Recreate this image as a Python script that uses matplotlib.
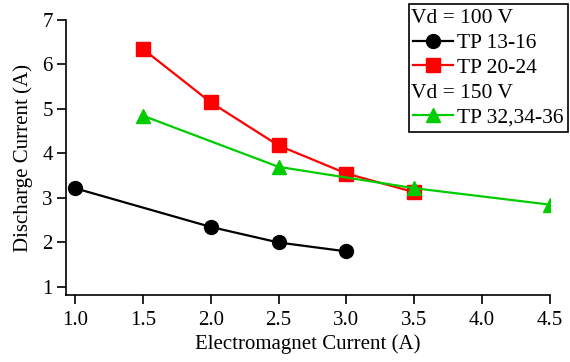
import numpy as np
import matplotlib.pyplot as plt
from matplotlib.lines import Line2D

plt.rcParams["font.family"] = ["Liberation Serif", "DejaVu Serif"]

# Data
x_tp13 = [1.0, 2.0, 2.5, 3.0]
y_tp13 = [3.22, 2.35, 2.0, 1.8]

x_tp20 = [1.5, 2.0, 2.5, 3.0, 3.5]
y_tp20 = [6.35, 5.15, 4.18, 3.55, 3.13]

x_tp32 = [1.5, 2.5, 3.5, 4.5]
y_tp32 = [4.85, 3.7, 3.22, 2.85]

xticks = [1.0, 1.5, 2.0, 2.5, 3.0, 3.5, 4.0, 4.5]
yticks = [1, 2, 3, 4, 5, 6, 7]

green = "#00cc00"

fig = plt.figure(figsize=(5.7, 3.62), dpi=100)
ax = fig.add_axes([66 / 570, 67 / 362, 484 / 570, 275 / 362])

l1, = ax.plot(x_tp13, y_tp13, color="black", lw=1.6, marker="o", ms=10)
l2, = ax.plot(x_tp20, y_tp20, color="red", lw=1.6, marker="s", ms=9.5)
l3, = ax.plot(x_tp32, y_tp32, color=green, lw=1.6, marker="^", ms=10.5)

ax.set_xlim(0.934, 4.5)
ax.set_ylim(0.82, 7)
ax.set_xticks(xticks)
ax.set_xticklabels([f"{v:.1f}" for v in xticks])
ax.set_yticks(yticks)
for s in ["top", "right"]:
    ax.spines[s].set_visible(False)
for s in ["left", "bottom"]:
    ax.spines[s].set_linewidth(1.2)
ax.tick_params(direction="out", length=6.5, width=1.2, labelsize=15)
ax.tick_params(axis="x", pad=5)
ax.tick_params(axis="y", pad=3)

ax.set_xlabel("Electromagnet Current (A)", fontsize=15, labelpad=3)
ax.set_ylabel("Discharge Current (A)", fontsize=15, labelpad=7)

# legend with two text-only header rows
blank = Line2D([], [], color="none")
handles = [blank, l1, l2, blank, l3]
labels = ["Vd = 100 V", "TP 13-16", "TP 20-24", "Vd = 150 V", "TP 32,34-36"]
hl, htp = 1.86, 0.2
fs = 15.5
leg = fig.legend(handles, labels, loc="upper right", bbox_to_anchor=(568 / 570, 358 / 362),
                 fontsize=fs, handlelength=hl, handletextpad=htp, labelspacing=0.22,
                 borderpad=0.2, borderaxespad=0, frameon=True, fancybox=False,
                 edgecolor="black", framealpha=1)
leg.get_frame().set_linewidth(1.2)
shift = (hl + htp) * fs * fig.dpi / 72 + 2
for t in (leg.get_texts()[0], leg.get_texts()[3]):
    t.set_position((-shift, 0))

fig.savefig("out.png", dpi=100)
